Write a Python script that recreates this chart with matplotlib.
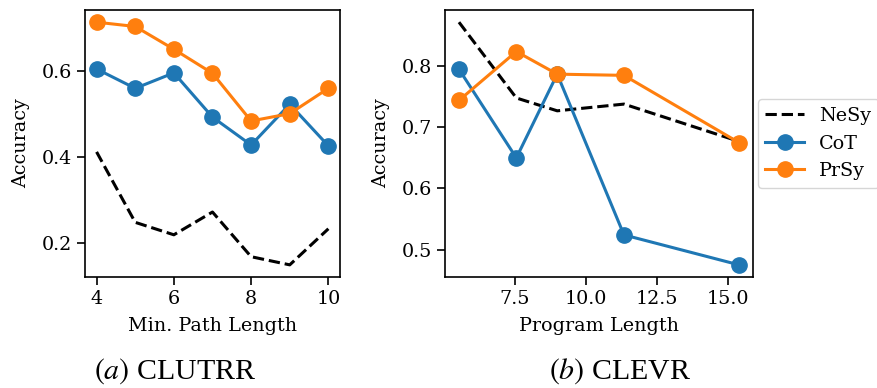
import matplotlib
matplotlib.use("Agg")
import matplotlib.pyplot as plt

# CLUTRR: accuracy vs minimum path length
clutrr_len = [4, 5, 6, 7, 8, 9, 10]
clutrr_nesy = [0.411, 0.247, 0.218, 0.271, 0.167, 0.148, 0.232]
clutrr_cot = [0.604, 0.559, 0.595, 0.492, 0.427, 0.522, 0.425]
clutrr_prsy = [0.713, 0.703, 0.650, 0.594, 0.483, 0.500, 0.559]

# CLEVR: accuracy vs program length
clevr_len = [5.54, 7.56, 9.0, 11.35, 15.4]
clevr_nesy = [0.872, 0.748, 0.727, 0.738, 0.677]
clevr_cot = [0.795, 0.650, 0.787, 0.524, 0.475]
clevr_prsy = [0.744, 0.824, 0.787, 0.785, 0.675]

captions = ["$(a)$ CLUTRR", "$(b)$ CLEVR"]

plt.rcParams["font.family"] = "DejaVu Serif"
plt.rcParams["font.size"] = 13.8
plt.rcParams["mathtext.fontset"] = "stix"

fig = plt.figure(figsize=(8.78, 3.88), dpi=100)
ax1 = fig.add_axes([0.0968, 0.2861, 0.2904, 0.688])
ax2 = fig.add_axes([0.5068, 0.2861, 0.3508, 0.688])

def draw(ax, x, nesy, cot, prsy):
    ax.plot(x, nesy, "--", color="black", lw=2.2, label="NeSy")
    ax.plot(x, cot, "-o", color="#1f77b4", lw=2.2, ms=11, label="CoT")
    ax.plot(x, prsy, "-o", color="#ff7f0e", lw=2.2, ms=11, label="PrSy")
    ax.set_ylabel("Accuracy", labelpad=8)

draw(ax1, clutrr_len, clutrr_nesy, clutrr_cot, clutrr_prsy)
ax1.set_xlabel("Min. Path Length", labelpad=6)
ax1.set_xticks([4, 6, 8, 10])
ax1.set_yticks([0.2, 0.4, 0.6])

draw(ax2, clevr_len, clevr_nesy, clevr_cot, clevr_prsy)
ax2.set_xlabel("Program Length", labelpad=6)
ax2.set_xticks([7.5, 10.0, 12.5, 15.0])
ax2.set_yticks([0.5, 0.6, 0.7, 0.8])
ax2.legend(loc="center left", bbox_to_anchor=(1.0, 0.5), borderaxespad=0.25)

for ax in (ax1, ax2):
    ax.tick_params(length=6, width=1.2)
    for s in ax.spines.values():
        s.set_linewidth(1.2)

fig.text(0.199, 0.024, captions[0], family="Liberation Serif", fontsize=21.5, ha="center")
fig.text(0.706, 0.024, captions[1], family="Liberation Serif", fontsize=21.5, ha="center")

fig.savefig("out.png", dpi=100)
